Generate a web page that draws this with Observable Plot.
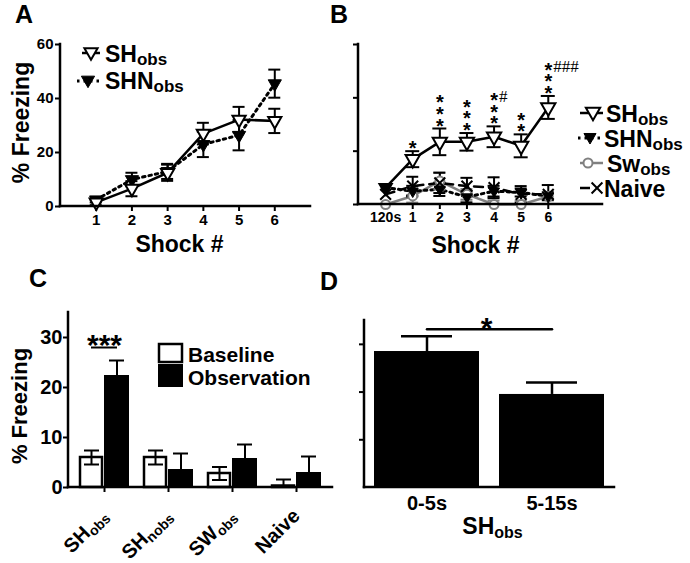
<!DOCTYPE html>
<html><head><meta charset="utf-8">
<script src="https://cdn.jsdelivr.net/npm/d3@7"></script>
<script src="https://cdn.jsdelivr.net/npm/@observablehq/plot@0.6"></script>
<style>
html,body{margin:0;padding:0;background:#fff;}
#fig{position:relative;width:690px;height:563px;overflow:hidden;background:#fff;}
.panel{position:absolute;}
.panel svg{overflow:visible;display:block;}
.panel g[aria-label*="axis"] line, .panel g[aria-label*="axis"] path{stroke-width:2px;}
#overlay{position:absolute;left:0;top:0;pointer-events:none;}
</style></head><body><div id="fig"></div>
<script>
// ---------------- DATA ----------------
// Panel A
const shocksA = [1, 2, 3, 4, 5, 6];
const shObsA = [1.5, 6.6, 12.5, 27.0, 32.2, 31.7];
const shObsErrA = [1.0, 2.8, 3.0, 4.0, 4.7, 4.5];
const shnObsA = [2.5, 10.0, 13.0, 23.0, 26.4, 45.5];
const shnObsErrA = [1.0, 2.5, 2.8, 4.7, 5.6, 5.2];
const seriesA = ["SH_obs", "SHN_obs"];
// Panel B
const shocksB = [0, 1, 2, 3, 4, 5, 6];
const tickLabelsB = ["120s", "1", "2", "3", "4", "5", "6"];
const shObsB = [6.3, 17.0, 23.5, 23.5, 25.4, 22.0, 36.4];
const shObsErrB = [0, 3.0, 5.0, 3.3, 3.9, 4.3, 4.3];
const shnObsB = [6.3, 5.0, 5.7, 2.8, 5.0, 4.5, 3.1];
const shnObsErrB = [0, 2.0, 2.5, 2.0, 2.0, 1.5, 1.5];
const swObsB = [0, 3.2, 8.8, 3.8, 0, 0, 3.0];
const swObsErrB = [0, 2.5, 3.2, 2.0, 1.5, 1.5, 1.0];
const naiveB = [3.8, 6.9, 8.1, 6.9, 6.3, 3.8, 3.8];
const naiveErrB = [0, 3.5, 3.8, 3.1, 3.9, 3.1, 3.5];
const starsB = ["", "*", "***", "***", "***", "**", "***"];
const hashB = ["", "", "", "", "#", "", "###"];
const seriesB = ["SH_obs", "SHN_obs", "Sw_obs", "Naive"];
// Panel C
const groupsC = ["SH_obs", "SH_nobs", "SW_obs", "Naive"];
const baselineC = [6.0, 6.0, 2.8, 0.3];
const baselineErrC = [1.4, 1.4, 1.3, 1.3];
const observationC = [22.4, 3.6, 5.8, 3.0];
const observationErrC = [3.0, 3.2, 2.8, 3.2];
const conditionsC = ["Baseline", "Observation"];
const sigC = ["***"];
// Panel D
const windowsD = ["0-5s", "5-15s"];
const freezingD = [28.5, 19.5];
const freezingErrD = [3.2, 2.5];
const sigD = ["*"];
const groupD = "SH_obs";
const panelLetters = ["A", "B", "C", "D"];
const yTitle = "% Freezing";
const xTitle = "Shock #";

// ---------------- HELPERS ----------------
const FONT = '"Liberation Sans", Arial, Helvetica, sans-serif';
const GRAY = "#808080";
const triDown = {draw(ctx, size) {
  const s = Math.sqrt(size), w = s * 0.62, t = s * 0.36, b = s * 0.72;
  ctx.moveTo(-w, -t); ctx.lineTo(w, -t); ctx.lineTo(0, b); ctx.closePath();
}};
const baseStyle = (fs) => ({fontFamily: FONT, fontSize: fs + "px", fontWeight: "bold", background: "transparent", color: "black", overflow: "visible"});

function errorBars(data, {x, y, e, stroke = "black", strokeWidth = 2, cap = 6}) {
  const d2 = data.filter(d => d[e] > 0);
  return [
    Plot.ruleX(d2, {x, y1: d => Math.max(0, d[y] - d[e]), y2: d => d[y] + d[e], stroke, strokeWidth}),
    Plot.ruleY(d2, {x1: x, x2: x, y: d => d[y] + d[e], insetLeft: -cap, insetRight: -cap, stroke, strokeWidth}),
    Plot.ruleY(d2.filter(d => d[y] - d[e] > 0.3), {x1: x, x2: x, y: d => d[y] - d[e], insetLeft: -cap, insetRight: -cap, stroke, strokeWidth})
  ];
}
function axisLines(plot, sw = 2.5) {
  const xs = plot.scale("x"), ys = plot.scale("y");
  const [xa, xb] = xs.range, [ya, yb] = ys.range;
  const s = d3.select(plot);
  s.append("line").attr("x1", xa).attr("x2", xb).attr("y1", ya).attr("y2", ya).attr("stroke", "black").attr("stroke-width", sw).attr("stroke-linecap", "square");
  s.append("line").attr("x1", xa).attr("x2", xa).attr("y1", ya).attr("y2", yb).attr("stroke", "black").attr("stroke-width", sw).attr("stroke-linecap", "square");
}
function subscriptify(svg, subSize, shift) {
  d3.select(svg).selectAll("text").each(function () {
    if (this.querySelector("tspan")) return;
    const m = /^([^_]+)_(.+)$/.exec(this.textContent);
    if (!m) return;
    const s = d3.select(this);
    s.text(null);
    s.append("tspan").text(m[1]);
    s.append("tspan").attr("font-size", subSize).attr("dy", shift).text(m[2]);
  });
}
function place(plot, left, top) {
  const div = document.createElement("div");
  div.className = "panel";
  div.style.left = left + "px"; div.style.top = top + "px";
  div.appendChild(plot);
  document.getElementById("fig").appendChild(div);
}
const yTitleMark = (dx, dy, fs) => Plot.text([yTitle], {text: d => d, frameAnchor: "left", textAnchor: "middle", lineAnchor: "middle", rotate: -90, dx, dy, fontSize: fs});

// ---------------- PANEL A ----------------
const dataA = shocksA.map((s, i) => ({shock: s, sh: shObsA[i], shE: shObsErrA[i], shn: shnObsA[i], shnE: shnObsErrA[i]}));
const plotA = Plot.plot({
  width: 330, height: 270, marginLeft: 60, marginRight: 20, marginTop: 44, marginBottom: 64,
  style: baseStyle(15),
  x: {domain: [0, 7], ticks: shocksA, tickFormat: d => String(d), tickSize: 5, tickPadding: 3, label: null},
  y: {domain: [0, 60], ticks: [0, 20, 40, 60], tickFormat: d => String(d), tickSize: 5, tickPadding: 2, label: null},
  marks: [
    Plot.line(dataA, {x: "shock", y: "shn", stroke: "black", strokeWidth: 3, strokeDasharray: "2.5,4"}),
    Plot.line(dataA, {x: "shock", y: "sh", stroke: "black", strokeWidth: 2.5}),
    ...errorBars(dataA, {x: "shock", y: "shn", e: "shnE"}),
    ...errorBars(dataA, {x: "shock", y: "sh", e: "shE"}),
    Plot.dot(dataA, {x: "shock", y: "shn", symbol: triDown, r: 6, fill: "black", stroke: "black", strokeWidth: 1}),
    Plot.dot(dataA, {x: "shock", y: "sh", symbol: triDown, r: 6, fill: "white", stroke: "black", strokeWidth: 2}),
    yTitleMark(-39, -3, 23),
    Plot.text([xTitle], {text: d => d, frameAnchor: "bottom", lineAnchor: "bottom", dx: -6, dy: 45, fontSize: 23})
  ]
});
axisLines(plotA);
place(plotA, 0, 0);

// ---------------- PANEL B ----------------
const dataB = shocksB.map((s, i) => ({
  shock: s, sh: shObsB[i], shE: shObsErrB[i], shn: shnObsB[i], shnE: shnObsErrB[i],
  sw: swObsB[i], swE: swObsErrB[i], nv: naiveB[i], nvE: naiveErrB[i], stars: starsB[i], hash: hashB[i]
}));
const plotB = Plot.plot({
  width: 360, height: 270, marginLeft: 28, marginRight: 88, marginTop: 44, marginBottom: 66,
  style: baseStyle(14),
  x: {domain: [-1, 8], ticks: shocksB, tickFormat: i => tickLabelsB[i], tickSize: 5, tickPadding: 3, label: null},
  y: {domain: [0, 60], ticks: [0, 20, 40, 60], tickFormat: () => "", tickSize: 5, label: null},
  marks: [
    Plot.line(dataB, {x: "shock", y: "sw", stroke: GRAY, strokeWidth: 2.5}),
    Plot.line(dataB, {x: "shock", y: "nv", stroke: "black", strokeWidth: 2.5, strokeDasharray: "9,6"}),
    Plot.line(dataB, {x: "shock", y: "shn", stroke: "black", strokeWidth: 3, strokeDasharray: "2.5,4"}),
    ...errorBars(dataB, {x: "shock", y: "sw", e: "swE", stroke: GRAY, cap: 6}),
    ...errorBars(dataB, {x: "shock", y: "nv", e: "nvE", cap: 6}),
    ...errorBars(dataB, {x: "shock", y: "shn", e: "shnE", cap: 6}),
    Plot.dot(dataB, {x: "shock", y: "sw", symbol: "circle", r: 4.5, fill: "white", stroke: GRAY, strokeWidth: 2}),
    Plot.dot(dataB, {x: "shock", y: "nv", symbol: "times", r: 5, stroke: "black", strokeWidth: 2}),
    Plot.dot(dataB, {x: "shock", y: "shn", symbol: triDown, r: 5, fill: "black", stroke: "black", strokeWidth: 1}),
    Plot.line(dataB, {x: "shock", y: "sh", stroke: "black", strokeWidth: 2.5}),
    ...errorBars(dataB, {x: "shock", y: "sh", e: "shE", cap: 7}),
    Plot.dot(dataB.filter(d => d.shock > 0), {x: "shock", y: "sh", symbol: triDown, r: 6.5, fill: "white", stroke: "black", strokeWidth: 2}),
    Plot.dot(dataB.filter(d => d.shock === 0), {x: "shock", y: "sh", symbol: triDown, r: 6, fill: "black", stroke: "black"}),
    Plot.text(dataB.filter(d => d.stars), {x: "shock", y: d => d.sh + d.shE, text: d => d.stars.split("").join("\n"),
      lineAnchor: "bottom", lineHeight: 0.58, fontSize: 20, dy: 4}),
    Plot.text(dataB.filter(d => d.hash), {x: "shock", y: d => d.sh + d.shE, text: "hash", textAnchor: "start",
      lineAnchor: "bottom", dx: 5, dy: -24, fontSize: 17, fontWeight: "normal", fontFamily: '"Liberation Serif", serif'}),
    Plot.text([xTitle], {text: d => d, frameAnchor: "bottom", lineAnchor: "bottom", dx: -5, dy: 48, fontSize: 23})
  ]
});
axisLines(plotB);
place(plotB, 330, 0);

// ---------------- PANEL C ----------------
const dataC = groupsC.map((g, i) => ({group: g, base: baselineC[i], baseE: baselineErrC[i], obs: observationC[i], obsE: observationErrC[i]}));
const plotC = Plot.plot({
  width: 345, height: 293, marginLeft: 68, marginRight: 13, marginTop: 42, marginBottom: 76,
  style: baseStyle(20),
  x: {type: "band", domain: groupsC, paddingInner: 0.215, paddingOuter: 0.14, tickSize: 5, tickPadding: 20, tickRotate: -45, label: null},
  y: {domain: [0, 35], ticks: [0, 10, 20, 30], tickFormat: d => String(d), tickSize: 5, tickPadding: 1, label: null},
  marks: [
    Plot.barY(dataC, {x: "group", y: "base", fill: "white", stroke: "black", strokeWidth: 2.5, insetLeft: 1, insetRight: 27}),
    Plot.barY(dataC, {x: "group", y: "obs", fill: "black", insetLeft: 25, insetRight: 0}),
    Plot.ruleX(dataC, {x: "group", y1: d => Math.max(0, d.base - d.baseE), y2: d => d.base + d.baseE, dx: -13, strokeWidth: 2}),
    Plot.tickY(dataC, {x: "group", y: d => d.base + d.baseE, insetLeft: 5, insetRight: 30, strokeWidth: 2}),
    Plot.tickY(dataC.filter(d => d.base - d.baseE > 0.3), {x: "group", y: d => d.base - d.baseE, insetLeft: 5, insetRight: 30, strokeWidth: 2}),
    Plot.ruleX(dataC, {x: "group", y1: "obs", y2: d => d.obs + d.obsE, dx: 12.5, strokeWidth: 2}),
    Plot.tickY(dataC, {x: "group", y: d => d.obs + d.obsE, insetLeft: 30, insetRight: 5, strokeWidth: 2}),
    Plot.tickY([dataC[0]], {x: "group", y: d => d.obs + d.obsE, dy: -13, insetLeft: 12, insetRight: 12, strokeWidth: 2}),
    Plot.text([dataC[0]], {x: "group", y: d => d.obs + d.obsE, text: () => sigC[0], lineAnchor: "bottom", dy: -6, fontSize: 30}),
    yTitleMark(-49, 6, 22)
  ]
});
axisLines(plotC);
subscriptify(plotC, "14px", "0.25em");
place(plotC, 0, 270);

// ---------------- PANEL D ----------------
const dataD = windowsD.map((w, i) => ({win: w, v: freezingD[i], e: freezingErrD[i]}));
const topD = d3.max(dataD, d => d.v + d.e);
const plotD = Plot.plot({
  width: 345, height: 293, marginLeft: 19, marginRight: 76, marginTop: 50, marginBottom: 76,
  style: baseStyle(20),
  x: {type: "band", domain: windowsD, paddingInner: 0.163, paddingOuter: 0.08, tickSize: 0, tickPadding: 8, label: null},
  y: {domain: [0, 35], ticks: [10, 20, 30], tickFormat: () => "", tickSize: 5, label: null},
  marks: [
    Plot.barY(dataD, {x: "win", y: "v", fill: "black"}),
    Plot.ruleX(dataD, {x: "win", y1: "v", y2: d => d.v + d.e, strokeWidth: 2.5}),
    Plot.tickY(dataD, {x: "win", y: d => d.v + d.e, insetLeft: 27, insetRight: 27, strokeWidth: 2.5}),
    Plot.line(dataD, {x: "win", y: () => topD, dy: -7, stroke: "black", strokeWidth: 2.5}),
    Plot.text(sigD, {y: () => topD, text: d => d, lineAnchor: "bottom", dx: -3, dy: 2, fontSize: 30}),
    Plot.text([groupD], {text: d => d, frameAnchor: "bottom", lineAnchor: "bottom", dx: 3, dy: 46, fontSize: 23})
  ]
});
axisLines(plotD);
subscriptify(plotD, "16px", "0.3em");
place(plotD, 345, 270);

// ---------------- OVERLAY: letters & legends ----------------
const ov = d3.select("#fig").append("svg").attr("id", "overlay").attr("width", 690).attr("height", 563)
  .style("font-family", FONT).style("font-weight", "bold");
const letterPos = [[15, 23], [330, 23], [29, 287], [320, 290]];
panelLetters.forEach((L, i) => ov.append("text").attr("x", letterPos[i][0]).attr("y", letterPos[i][1]).attr("font-size", 25).text(L));

function lbl(x, y, name, size, subSize) {
  const [main, sub] = name.split("_");
  const t = ov.append("text").attr("x", x).attr("y", y).attr("font-size", size);
  t.append("tspan").text(main);
  if (sub) t.append("tspan").attr("font-size", subSize).attr("dy", 3).text(sub);
}
function seg(x1, x2, y, stroke, sw, dash) {
  const l = ov.append("line").attr("x1", x1).attr("x2", x2).attr("y1", y).attr("y2", y).attr("stroke", stroke).attr("stroke-width", sw);
  if (dash) l.attr("stroke-dasharray", dash);
}
function sym(type, x, y, r, fill, stroke, sw) {
  ov.append("path").attr("d", d3.symbol().type(type).size(Math.PI * r * r)()).attr("transform", `translate(${x},${y})`)
    .attr("fill", fill).attr("stroke", stroke).attr("stroke-width", sw);
}
// Legend A
seg(82, 100, 53, "black", 2.5); sym(triDown, 91, 52, 6, "white", "black", 2); lbl(105, 62, seriesA[0], 23, 17);
seg(77, 100, 81, "black", 3, "2.5,4"); sym(triDown, 88, 80, 6, "black", "black", 1); lbl(105, 89, seriesA[1], 23, 17);
// Legend B
const lbY = [113, 138, 163, 188];
seg(580, 603, lbY[0], "black", 2.5); sym(triDown, 593, lbY[0] - 1, 6.5, "white", "black", 2); lbl(606, lbY[0] + 9, seriesB[0], 23, 17);
seg(578, 602, lbY[1], "black", 3, "2.5,4"); sym(triDown, 590, lbY[1] - 1, 5.5, "black", "black", 1); lbl(604, lbY[1] + 9, seriesB[1], 23, 17);
seg(580, 603, lbY[2], GRAY, 2.5); sym(d3.symbolCircle, 588, lbY[2], 4.5, "white", GRAY, 2); lbl(607, lbY[2] + 9, seriesB[2], 23, 17);
seg(580, 590, lbY[3], "black", 2.5); sym(d3.symbolTimes, 597, lbY[3], 5, "none", "black", 2); lbl(604, lbY[3] + 9, seriesB[3], 23, 17);
// Legend C
ov.append("rect").attr("x", 159).attr("y", 344).attr("width", 23).attr("height", 18).attr("fill", "white").attr("stroke", "black").attr("stroke-width", 2.5);
ov.append("rect").attr("x", 158).attr("y", 364).attr("width", 25).attr("height", 23).attr("fill", "black");
lbl(188, 362, conditionsC[0], 21, 15);
lbl(188, 385, conditionsC[1], 21, 15);
</script></body></html>
